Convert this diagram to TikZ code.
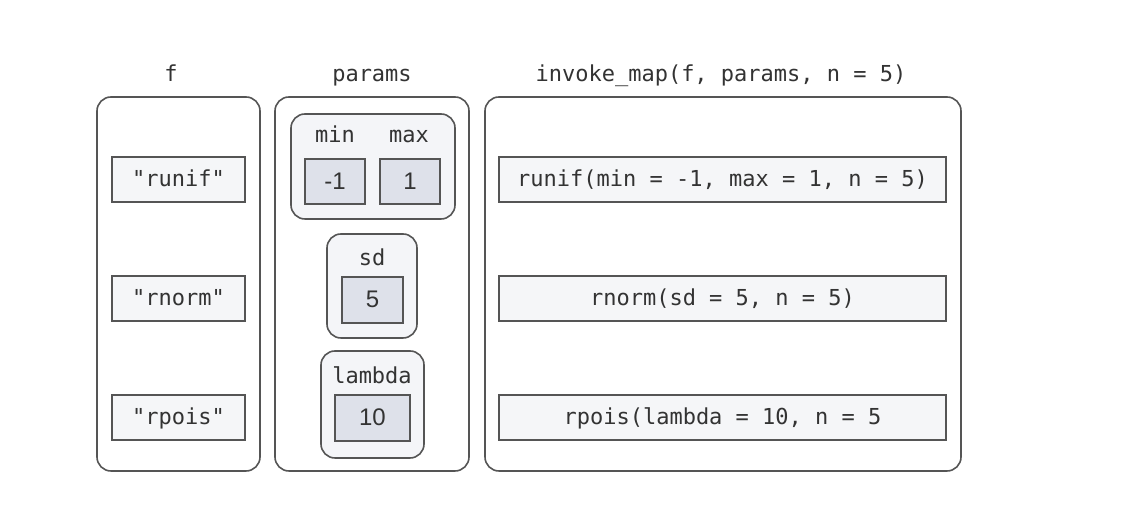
\documentclass[tikz,border=0pt]{standalone}
\usepackage{fontspec}
\setmonofont{DejaVu Sans Mono}
\newfontfamily\valfont{Liberation Sans}
\usetikzlibrary{fit}
\definecolor{edge}{HTML}{555555}
\definecolor{txtc}{HTML}{333333}
\definecolor{boxfill}{HTML}{F5F6F8}
\definecolor{grpfill}{HTML}{F4F5F8}
\definecolor{valfill}{HTML}{DEE1EA}
\tikzset{
  panel/.style={draw=edge, line width=0.8pt, rounded corners=7pt, fill=white, inner sep=0pt},
  strbox/.style={draw=edge, line width=0.8pt, fill=boxfill, inner sep=0pt},
  grp/.style={draw=edge, line width=0.8pt, rounded corners=7pt, fill=grpfill, inner sep=0pt},
  valbox/.style={draw=edge, line width=0.8pt, fill=valfill, inner sep=0pt},
  lbl/.style={font=\ttfamily\fontsize{11}{13}\selectfont, text=txtc, inner sep=0pt, anchor=base},
  vlbl/.style={font=\valfont\fontsize{12}{14}\selectfont, text=txtc, inner sep=0pt, anchor=base},
}
\begin{document}
\begin{tikzpicture}[x=0.5pt, y=-0.5pt]
\useasboundingbox (0,0) rectangle (1126,522);
% panels
\node[panel, fit={(97,97) (260,471)}] (pf) {};
\node[panel, fit={(275,97) (469,471)}] (pp) {};
\node[panel, fit={(485,97) (961,471)}] (pi) {};
% titles
\node[lbl] (tf) at (171,82) {f};
\node[lbl] (tp) at (372,82) {params};
\node[lbl] (ti) at (721,82) {invoke\_map(f, params, n = 5)};
% f column
\node[strbox, fit={(112,157) (245,202)}] (s1) {};
\node[strbox, fit={(112,276) (245,321)}] (s2) {};
\node[strbox, fit={(112,395) (245,440)}] (s3) {};
\node[lbl] (s1t) at ([yshift=-7*0.5pt]s1.center) {"runif"};
\node[lbl] (s2t) at ([yshift=-7*0.5pt]s2.center) {"rnorm"};
\node[lbl] (s3t) at ([yshift=-7*0.5pt]s3.center) {"rpois"};
% params groups
\node[grp, fit={(291,114) (455,219)}] (g1) {};
\node[lbl] (lmin) at (335,143) {min};
\node[lbl] (lmax) at (409,143) {max};
\node[valbox, fit={(305,159) (365,204)}] (vmin) {};
\node[valbox, fit={(380,159) (440,204)}] (vmax) {};
\node[vlbl] (vmint) at ([yshift=-8*0.5pt]vmin.center) {-1};
\node[vlbl] (vmaxt) at ([yshift=-8*0.5pt]vmax.center) {1};
\node[grp, fit={(327,234) (417,338)}] (g2) {};
\node[lbl] (lsd) at (372,266) {sd};
\node[valbox, fit={(342,277) (403,323)}] (vsd) {};
\node[vlbl] (vsdt) at ([yshift=-8*0.5pt]vsd.center) {5};
\node[grp, fit={(321,351) (424,458)}] (g3) {};
\node[lbl] (llam) at (372,384) {lambda};
\node[valbox, fit={(335,395) (410,441)}] (vlam) {};
\node[vlbl] (vlamt) at ([yshift=-8*0.5pt]vlam.center) {10};
% invoke column
\node[strbox, fit={(499,157) (946,202)}] (r1) {};
\node[strbox, fit={(499,276) (946,321)}] (r2) {};
\node[strbox, fit={(499,395) (946,440)}] (r3) {};
\node[lbl] (r1t) at ([yshift=-7*0.5pt]r1.center) {runif(min = -1, max = 1, n = 5)};
\node[lbl] (r2t) at ([yshift=-7*0.5pt]r2.center) {rnorm(sd = 5, n = 5)};
\node[lbl] (r3t) at ([yshift=-7*0.5pt]r3.center) {rpois(lambda = 10, n = 5};
\end{tikzpicture}
\end{document}
